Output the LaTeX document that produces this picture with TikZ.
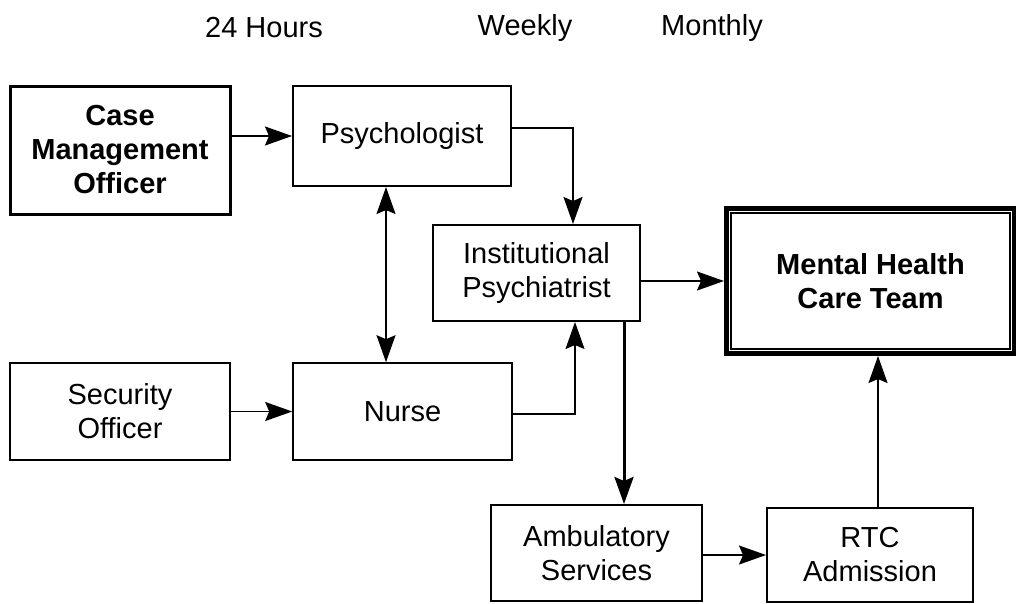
\documentclass[tikz,border=0pt]{standalone}
\usepackage{fontspec}
\setmainfont{Liberation Sans}
\usetikzlibrary{arrows.meta}
\begin{document}
\begin{tikzpicture}[x=1pt,y=-1pt,
  txt/.style={font=\fontsize{29}{34}\selectfont, align=center},
  box/.style={txt, draw, line width=2pt, inner sep=0pt},
  tip/.tip={Stealth[length=27pt,width=19pt,inset=4pt]},
  arr/.style={-tip, line width=1.6pt},
  darr/.style={tip-tip, line width=1.6pt},
  hdr/.style={font=\fontsize{29}{33}\selectfont}]
\useasboundingbox (0,0) rectangle (1016,603);
% headers
\node[hdr] (h1) at (264,28) {24 Hours};
\node[hdr] (h2) at (525,28) {Weekly};
\node[hdr] (h3) at (712,28) {Monthly};
% boxes
\node[box, line width=3pt, minimum width=220pt, minimum height=128pt, font=\fontsize{29}{34}\selectfont\bfseries] (cmo) at (120,150) {Case\\Management\\Officer};
\node[box, minimum width=218pt, minimum height=100pt] (psy) at (402,136) {Psychologist};
\node[box, minimum width=207pt, minimum height=96pt] (ip) at (536.5,273) {Institutional\\Psychiatrist};
\node[box, line width=5pt, minimum width=288pt, minimum height=145pt, font=\fontsize{29}{34}\selectfont\bfseries] (mh) at (870.5,281) {Mental Health\\Care Team};
\draw[line width=1.8pt] ([shift={(7,7)}]mh.north west) rectangle ([shift={(-7,-7)}]mh.south east);
\node[box, minimum width=220pt, minimum height=97pt] (so) at (120,411.5) {Security\\Officer};
\node[box, line width=1.6pt, minimum width=219pt, minimum height=97pt] (nurse) at (402.5,411.5) {Nurse};
\node[box, minimum width=211pt, minimum height=96pt] (amb) at (596.5,553) {Ambulatory\\Services};
\node[box, minimum width=206pt, minimum height=94pt] (rtc) at (870,555) {RTC\\Admission};
% connectors
\draw[arr] (cmo.east |- psy.west) -- (psy.west);
\draw[arr] ([yshift=8pt]psy.east) -| ([xshift=36.5pt]ip.north);
\draw[darr] ([xshift=-16pt]psy.south) -- ([xshift=-16pt]psy.south |- nurse.north);
\draw[arr] (ip.east |- mh.west) -- (mh.west);
\draw[arr] (so.east) -- (nurse.west);
\draw[arr, line width=1.2pt] ([yshift=-2.5pt]nurse.east) -| ([xshift=38.5pt]ip.south);
\draw[arr, line width=3pt] ([xshift=87.5pt]ip.south) -- ([xshift=87.5pt]ip.south |- amb.north);
\draw[arr] (amb.east |- rtc.west) -- (rtc.west);
\draw[arr] ([xshift=8pt]rtc.north) -- ([xshift=8pt]rtc.north |- mh.south);
\end{tikzpicture}
\end{document}
